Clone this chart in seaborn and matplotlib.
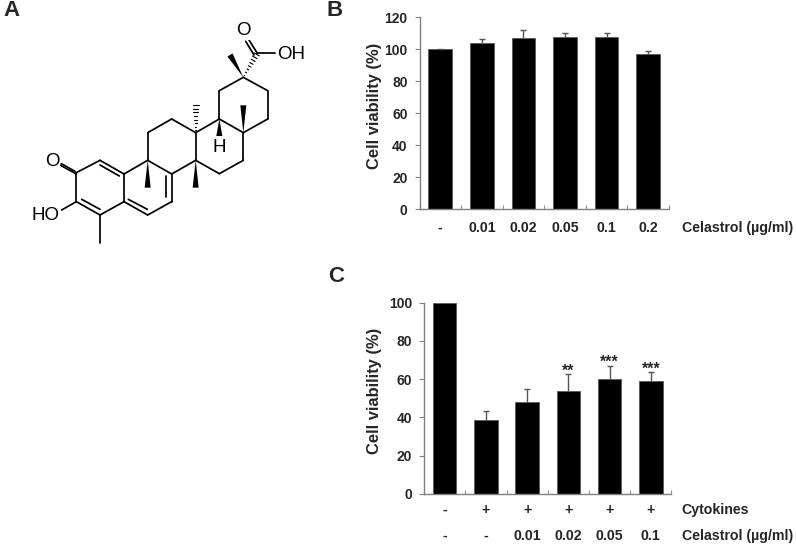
import numpy as np
import pandas as pd
import matplotlib
matplotlib.use("Agg")
import matplotlib.pyplot as plt
import seaborn as sns

sns.set_style("white")
plt.rcParams["font.family"] = ["Liberation Sans", "DejaVu Sans"]

# panel B
b_labels = ["-", "0.01", "0.02", "0.05", "0.1", "0.2"]
b_values = [100, 103.8, 107, 108, 108, 96.8]
b_err = [0.3, 2.4, 5, 2, 2, 2.2]

# panel C
c_row1 = ["-", "+", "+", "+", "+", "+"]
c_row2 = ["-", "-", "0.01", "0.02", "0.05", "0.1"]
c_values = [100, 38.5, 48, 54, 60.2, 59]
c_err = [0, 4.9, 6.7, 8.7, 6.9, 4.5]
c_stars = ["", "", "", "**", "***", "***"]

# panel A, structure traced in pixels
atoms = {
    "a": (229, 518), "b": (300, 481), "c": (372, 522), "d": (372, 605),
    "e": (300, 645), "f": (229, 605), "g": (443, 481), "h": (515, 522),
    "i": (515, 605), "j": (443, 645), "k": (443, 398), "l": (515, 357),
    "m": (587, 398), "n": (587, 481), "o": (658, 357), "p": (730, 398),
    "q": (730, 481), "r": (658, 521), "s": (658, 272), "t": (730, 232),
    "u": (803, 272), "v": (803, 357), "w": (770, 163),
}
bonds = ["ab", "bc", "cd", "de", "ef", "fa", "cg", "gh", "hi", "ij", "jd",
         "gk", "kl", "lm", "mn", "nh", "mo", "op", "pq", "qr", "rn",
         "os", "st", "tu", "uv", "vp"]
extra_lines = [((300, 495), (358, 528)), ((245, 598), (300, 628)),
               ((498, 528), (498, 592)), ((385, 598), (442, 628)),
               ((229, 605), (185, 630)), ((300, 645), (300, 728)),
               ((229, 522), (180, 495)), ((225, 514), (184, 491)),
               ((770, 160), (825, 160)), ((772, 160), (747, 120)),
               ((762, 165), (737, 124))]
solid_wedges = [("g", (443, 563)), ("n", (587, 563)), ("p", (730, 316)),
                ("o", (658, 408)), ("t", (690, 165))]
hash_wedges = [("m", (587, 315)), ("t", (770, 163))]
mol_text = [("O", 157, 483), ("HO", 137, 647), ("O", 729, 92),
            ("OH", 873, 163), ("H", 658, 441)]

fig = plt.figure(figsize=(7.96, 5.47), dpi=100)
W, H = 796, 547


def make_axes(left, top, right, bottom):
    return fig.add_axes([left / W, 1 - bottom / H, (right - left) / W, (bottom - top) / H])


def bar_panel(ax, values, err, ymax, step):
    df = pd.DataFrame({"dose": [str(i) for i in range(len(values))], "viability": values})
    sns.barplot(data=df, x="dose", y="viability", color="black", saturation=1, width=0.57,
                edgecolor="#606060", linewidth=0.7, ax=ax)
    x = np.arange(len(values))
    tops = np.array(values) + np.array(err)
    keep = np.array(err) > 0
    ax.vlines(x[keep], np.array(values)[keep], tops[keep], color="#555555", lw=1)
    ax.plot(x[keep], tops[keep], "_", color="#555555", ms=4.5, mew=1, clip_on=False)
    ax.set_xlim(-0.5, len(values) - 0.5)
    ax.set_ylim(0, ymax)
    ax.set_yticks(np.arange(0, ymax + 1, step))
    ax.set_xticks(np.arange(-0.5, len(values)))
    ax.set_xticklabels([])
    ax.set_xlabel("")
    ax.set_ylabel("Cell viability (%)", fontsize=11.85, fontweight="bold")
    ax.tick_params(axis="y", left=True, length=3.6, width=0.8, color="#808080", labelsize=10, pad=5)
    ax.tick_params(axis="x", bottom=True, direction="in", length=3, width=0.8, color="#909090")
    for lab in ax.get_yticklabels():
        lab.set_fontweight("bold")
    sns.despine(ax=ax)
    for side in ["left", "bottom"]:
        ax.spines[side].set_color("#808080")
        ax.spines[side].set_linewidth(1)


def row_text(ax, labels, y_px, name, name_x=681.5):
    # category labels under the bars, y given in figure pixels
    trans = ax.get_xaxis_transform()
    for i, lab in enumerate(labels):
        y_ax = ax.transAxes.inverted().transform((0, H - y_px))[1]
        ax.text(i, y_ax, lab, transform=trans, ha="center", va="center",
                fontsize=10.2, fontweight="bold", clip_on=False)
    fig.text(name_x / W, 1 - y_px / H, name, ha="left", va="center", fontsize=10.2, fontweight="bold")


ax_b = make_axes(419.5, 17.3, 669, 209.3)
bar_panel(ax_b, b_values, b_err, 120, 20)
ax_b.yaxis.set_label_coords((382 - 419.5) / 249.5, 0.54)
row_text(ax_b, b_labels, 228, "Celastrol (µg/ml)")

ax_c = make_axes(424, 302.7, 671.5, 493.7)
bar_panel(ax_c, c_values, c_err, 100, 20)
ax_c.yaxis.set_label_coords((382 - 424) / 247.5, 0.54)
row_text(ax_c, c_row1, 510, "Cytokines")
row_text(ax_c, c_row2, 536, "Celastrol (µg/ml)")
for i, star in enumerate(c_stars):
    if star:
        ax_c.annotate(star, (i, c_values[i] + c_err[i]), xytext=(0, -1), textcoords="offset points",
                      ha="center", va="baseline", fontsize=11.5, fontweight="bold", annotation_clip=False)

# molecule drawn on a full-figure overlay, coordinates are the 3x zoom pixels
ax_m = fig.add_axes([0, 0, 1, 1], zorder=-1)
ax_m.set_xlim(0, W * 3)
ax_m.set_ylim(H * 3, 0)
ax_m.axis("off")
bond_lw = 1.25
for pair in bonds:
    p0, p1 = atoms[pair[0]], atoms[pair[1]]
    ax_m.plot([p0[0], p1[0]], [p0[1], p1[1]], color="black", lw=bond_lw, solid_capstyle="round")
for p0, p1 in extra_lines:
    ax_m.plot([p0[0], p1[0]], [p0[1], p1[1]], color="black", lw=bond_lw, solid_capstyle="round")
for name, tip in solid_wedges:
    p0 = np.array(atoms[name], float)
    p1 = np.array(tip, float)
    d = p1 - p0
    n = np.array([-d[1], d[0]]) / np.hypot(*d)
    ax_m.fill(*zip(p0, p1 + n * 9, p1 - n * 9), color="black", lw=0)
for name, tip in hash_wedges:
    p0 = np.array(atoms[name], float)
    p1 = np.array(tip, float)
    d = p1 - p0
    n = np.array([-d[1], d[0]]) / np.hypot(*d)
    for f in np.linspace(0.08, 1, 8):
        q = p0 + d * f
        ax_m.plot(*zip(q + n * 9 * f, q - n * 9 * f), color="black", lw=0.8)
for txt, x, y in mol_text:
    ax_m.text(x, y, txt, ha="center", va="center", fontsize=13.5, color="black",
              bbox=dict(facecolor="white", edgecolor="none", pad=0.5))

# panel letters
for letter, x, y in [("A", 11, 11), ("B", 335, 10), ("C", 336, 277)]:
    fig.text(x / W, 1 - y / H, letter, ha="center", va="center", fontsize=16, fontweight="bold")

fig.savefig("out.png", dpi=100)
